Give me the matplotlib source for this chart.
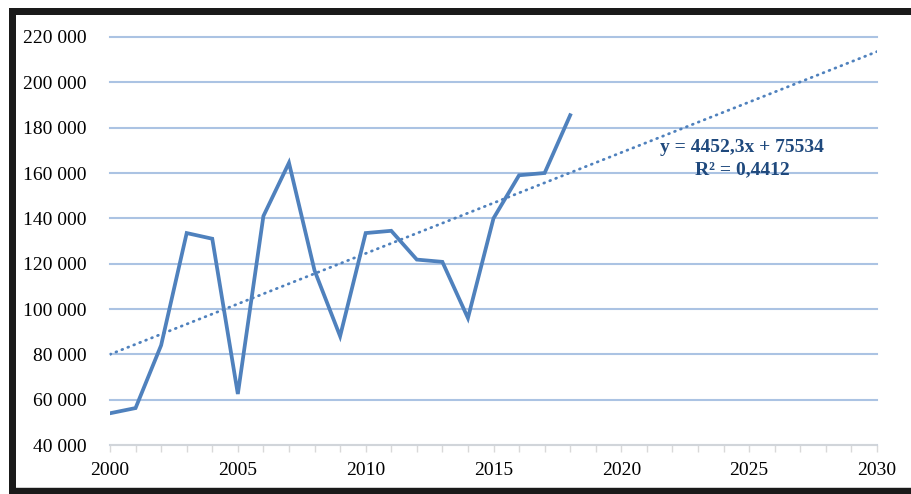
import numpy as np
import matplotlib.pyplot as plt
from matplotlib.patches import Rectangle
from matplotlib.ticker import FuncFormatter, MultipleLocator

years = list(range(2000, 2019))
values = [54000, 56300, 84000, 133500, 131000, 62500, 141000, 164500, 117000,
          88000, 133500, 134500, 121800, 120800, 96000, 140000, 159000, 160000, 185500]
# Excel linear trend, x = 1 for the first year
slope = 4452.3
intercept = 75534
r2 = "0,4412"
trend_years = [2000, 2030]

blue = "#4F81BD"
grid = "#ABC3E3"

plt.rcParams['font.family'] = ['Liberation Serif', 'DejaVu Serif']

fig = plt.figure(figsize=(9.12, 4.94), dpi=100)
W, H = 912, 494

# black frame around the chart area (pixels)
fig.patches.append(Rectangle((9, 0), W, H - 8, transform=None, facecolor="#1a1a1a",
                             edgecolor="none", zorder=-3))
fig.patches.append(Rectangle((16, 6), W, H - 21, transform=None, facecolor="#cfcfcf",
                             edgecolor="none", zorder=-2))
fig.patches.append(Rectangle((16, 7), W, H - 22, transform=None, facecolor="white",
                             edgecolor="none", zorder=-1))

ax = fig.add_axes([110 / W, 49 / H, 767 / W, 408 / H])
ax.set_facecolor("none")

ax.plot(years, values, color=blue, lw=2.7, solid_joinstyle="miter", zorder=3)
tx = np.array(trend_years)
ty = slope * (tx - 1999) + intercept
ax.plot(tx, ty, color=blue, lw=2.0, linestyle=(0, (0.3, 2.0)), dash_capstyle="round", zorder=3)

eq = f"y = {slope:.1f}x + {intercept}".replace(".", ",")
ax.text(742, H - 147, eq, transform=None, ha="center", va="center",
        fontsize=14, fontweight="bold", color="#1F497D")
ax.text(742, H - 170, f"R² = {r2}", transform=None, ha="center", va="center",
        fontsize=14, fontweight="bold", color="#1F497D")

ax.set_xlim(2000, 2030)
ax.set_ylim(40000, 220000)
ax.yaxis.set_major_locator(MultipleLocator(20000))
ax.yaxis.set_major_formatter(FuncFormatter(lambda v, p: f"{int(v):,}".replace(",", " ")))
ax.xaxis.set_major_locator(MultipleLocator(5))
ax.xaxis.set_minor_locator(MultipleLocator(1))

ax.grid(axis="y", color=grid, lw=1.5, zorder=1)
for gl in ax.get_ygridlines():
    gl.set_clip_on(False)
for s in ["left", "right", "top"]:
    ax.spines[s].set_visible(False)
ax.spines["bottom"].set_color("#d9d9d9")
ax.spines["bottom"].set_linewidth(1.2)
ax.tick_params(axis="y", length=0, pad=17, labelsize=14)
ax.tick_params(axis="x", which="both", length=5, color="#d9d9d9", width=1, pad=7, labelsize=14)

fig.savefig("out.png", dpi=100)
